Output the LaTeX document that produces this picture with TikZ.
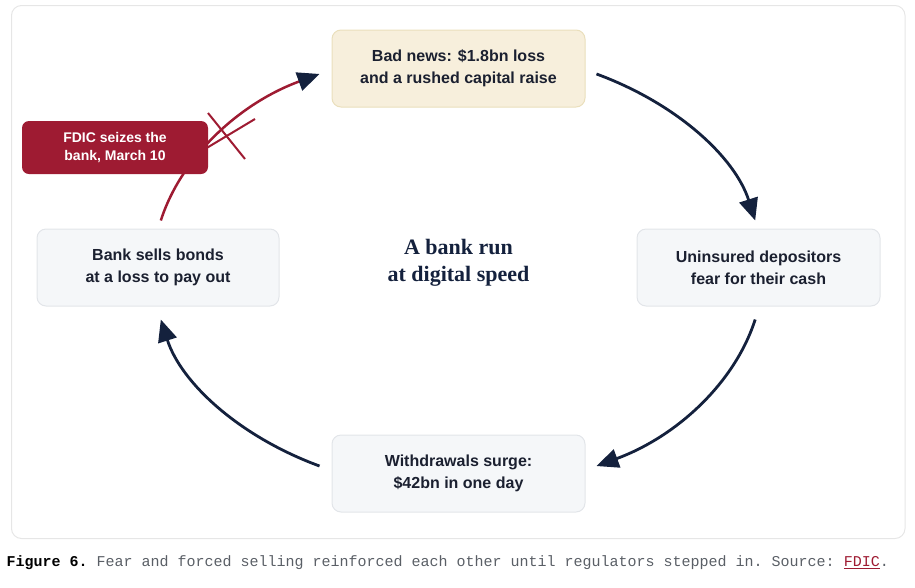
\documentclass[tikz,border=0pt]{standalone}
\usepackage{fontspec}
\setmainfont{Liberation Sans}
\newfontfamily\titlefont{Liberation Serif}
\newfontfamily\capfont{Liberation Mono}
\usetikzlibrary{arrows.meta}
\definecolor{navy}{HTML}{14213D}
\definecolor{ink}{HTML}{1B2030}
\definecolor{redc}{HTML}{9E1B32}
\definecolor{creamfill}{HTML}{F7EFDC}
\definecolor{creamline}{HTML}{EADFBC}
\definecolor{greyfill}{HTML}{F5F7F9}
\definecolor{greyline}{HTML}{E2E5E9}
\definecolor{framec}{HTML}{E6E6E6}
\definecolor{capgray}{HTML}{5A5F66}
\tikzset{
  box/.style={rounded corners=9pt, line width=1pt, align=center, inner sep=0pt,
    font=\bfseries\fontsize{16}{22}\selectfont, text=ink, minimum height=77pt},
  creambox/.style={box, fill=creamfill, draw=creamline, minimum width=253pt},
  greybox/.style={box, fill=greyfill, draw=greyline},
  redbox/.style={rounded corners=7pt, fill=redc, draw=none, align=center, inner sep=0pt,
    text=white, font=\bfseries\fontsize{14}{18}\selectfont, minimum width=186pt, minimum height=53pt},
  arr/.style={draw=navy, line width=2.8pt, -{Triangle[length=22pt,width=19pt]}},
  redarr/.style={draw=redc, line width=2.5pt, -{Triangle[length=22pt,width=19pt,color=navy]}},
  crossline/.style={draw=redc, line width=2pt}
}
\begin{document}
\begin{tikzpicture}[x=1pt,y=1pt]
\useasboundingbox (0,0) rectangle (915,-587);
\draw[framec, line width=1pt, rounded corners=10pt] (11.5,-5.5) rectangle (905,-538.5);

\coordinate (ctr) at (458,-270);

% cycle connectors
\draw[arr] (ctr) ++(63:305 and 220) arc[start angle=63, end angle=13, x radius=305, y radius=220];
\draw[arr] (ctr) ++(-13:305 and 220) arc[start angle=-13, end angle=-63, x radius=305, y radius=220];
\draw[arr] (ctr) ++(-117:305 and 220) arc[start angle=-117, end angle=-167, x radius=305, y radius=220];
\draw[redarr] (ctr) ++(167:305 and 220) arc[start angle=167, end angle=117, x radius=305, y radius=220];

% break mark
\coordinate (xa1) at (208,-113);
\coordinate (xa2) at (245,-159);
\coordinate (xb1) at (200,-152);
\coordinate (xb2) at (255,-119);
\draw[crossline] (xa1) -- (xa2);
\draw[crossline] (xb1) -- (xb2);

% nodes
\node[creambox] (top) at (458.5,-68.5) {Bad news: \$1.8bn loss\\and a rushed capital raise};
\node[greybox, minimum width=243pt] (right) at (758.5,-267.5) {Uninsured depositors\\fear for their cash};
\node[greybox, minimum width=253pt] (bottom) at (458.5,-473.5) {Withdrawals surge:\\\$42bn in one day};
\node[greybox, minimum width=242pt] (left) at (158,-267.5) {Bank sells bonds\\at a loss to pay out};
\node[redbox] (fdic) at (115,-147.5) {FDIC seizes the\\bank, March 10};

\node[align=center, text=navy, font=\titlefont\bfseries\fontsize{22}{27}\selectfont] (title) at (458.5,-262.5) {A bank run\\at digital speed};

\node[anchor=west, inner sep=0pt, font=\capfont\fontsize{15}{18}\selectfont] (caption) at (6.5,-563)
  {\frenchspacing\textbf{Figure 6.} \textcolor{capgray}{Fear and forced selling reinforced each other until regulators stepped in. Source: }\textcolor{redc}{\underline{FDIC}}\textcolor{capgray}{.}};
\end{tikzpicture}
\end{document}
